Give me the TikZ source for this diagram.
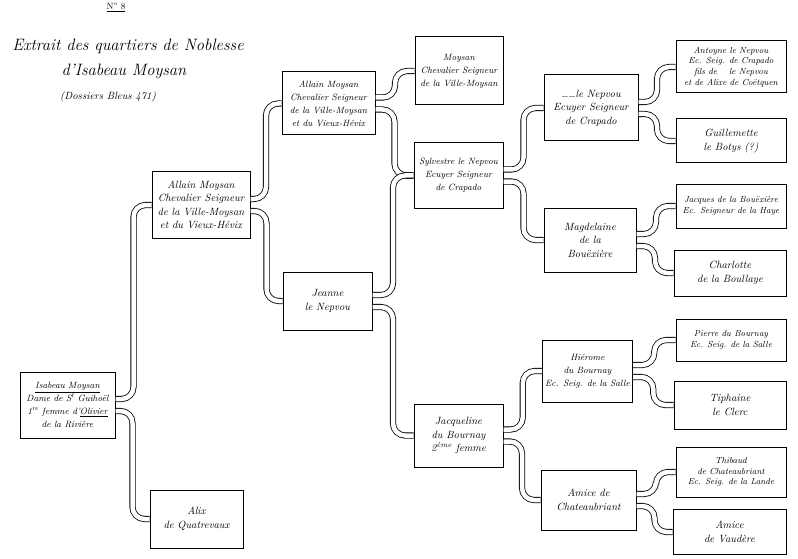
\documentclass[tikz,border=0pt]{standalone}
\usetikzlibrary{calc}
\begin{document}
\begin{tikzpicture}[
  x=1pt,
  y=-1pt,
  person/.style={draw, line width=1pt, align=center, inner sep=1pt,
    font=\fontsize{10.5}{13.5}\selectfont\itshape},
  narrow/.style={person, font=\fontsize{9.1}{13}\selectfont\itshape},
  elder/.style={person, font=\fontsize{8.8}{10.8}\selectfont\itshape},
  link/.style={draw=black, line width=0.8pt, double=white,
    double distance=4.5pt, rounded corners=12pt},
  heading/.style={font=\fontsize{16.5}{20}\selectfont\itshape, align=center},
  note/.style={font=\fontsize{10.5}{12}\selectfont\itshape}
]
  \useasboundingbox (0,0) rectangle (798,559);

  % Heading.
  \node[font=\small] (number) at (116,7) {\underline{N\textsuperscript{o} 8}};
  \node[heading] (title) at (128,46) {Extrait des quartiers de Noblesse};
  \node[heading] (name) at (124,71) {d'Isabeau Moysan};
  \node[note] (source) at (108,97) {(Dossiers Bleus 471)};

  % Generations, from left to right.
  \node[narrow, minimum width=95, minimum height=66] (isabeau) at (67.5,405)
    {\underline{Isabeau Moysan}\\Dame de S\textsuperscript{t} Guihoël\\
     1\textsuperscript{re} femme d'\underline{Olivier}\\de la Rivière};

  \node[person, minimum width=98, minimum height=66] (allainA) at (201,205)
    {Allain Moysan\\Chevalier Seigneur\\de la Ville-Moysan\\et du Vieux-Hévix};
  \node[person, minimum width=93, minimum height=58] (alix) at (196.5,519)
    {Alix\\de Quatrevaux};

  \node[narrow, minimum width=93, minimum height=63] (allainB) at (328.5,103.5)
    {Allain Moysan\\Chevalier Seigneur\\de la Ville-Moysan\\et du Vieux-Hévix};
  \node[person, minimum width=89, minimum height=58] (jeanne) at (327.5,301)
    {Jeanne\\le Nepvou};

  \node[narrow, minimum width=88, minimum height=68] (moysan) at (459,71)
    {Moysan\\Chevalier Seigneur\\de la Ville-Moysan};
  \node[narrow, minimum width=89, minimum height=65] (sylvestre) at (458.5,175.5)
    {Sylvestre le Nepvou\\Ecuyer Seigneur\\de Crapado};
  \node[person, minimum width=89, minimum height=63] (jacqueline) at (458.5,435.5)
    {Jacqueline\\du Bournay\\2\textsuperscript{ème} femme};

  \node[person, minimum width=94, minimum height=66] (nepvou) at (591,108)
    {\dots\dots le Nepvou\\Ecuyer Seigneur\\de Crapado};
  \node[person, minimum width=92, minimum height=64] (magdelaine) at (590,240)
    {Magdelaine\\de la\\Bouëxière};
  \node[narrow, minimum width=90, minimum height=62] (hierome) at (587.5,371)
    {Hiérome\\du Bournay\\Ec. Seig. de la Salle};
  \node[person, minimum width=95, minimum height=60] (amiceA) at (588.5,500)
    {Amice de\\Chateaubriant};

  \node[elder, minimum width=110, minimum height=52] (antoyne) at (731,67)
    {Antoyne le Nepvou\\Ec. Seig. de Crapado\\fils de \quad le Nepvou\\et de Alixe de Coëtquen};
  \node[person, minimum width=110, minimum height=44] (guillemette) at (731,141)
    {Guillemette\\le Botys (?)};
  \node[elder, minimum width=110, minimum height=44] (jacques) at (731,206)
    {Jacques de la Bouëxière\\Ec. Seigneur de la Haye};
  \node[person, minimum width=112, minimum height=46] (charlotte) at (730,273)
    {Charlotte\\de la Boullaye};
  \node[elder, minimum width=110, minimum height=42] (pierre) at (731,340)
    {Pierre du Bournay\\Ec. Seig. de la Salle};
  \node[person, minimum width=112, minimum height=48] (tiphaine) at (730,405)
    {Tiphaine\\le Clerc};
  \node[elder, minimum width=110, minimum height=50] (thibaud) at (731,472)
    {Thibaud\\de Chateaubriant\\Ec. Seig. de la Lande};
  \node[person, minimum width=113, minimum height=45] (amiceB) at (729.5,532)
    {Amice\\de Vaudère};

  % Double brackets from each child to its father and mother.
  \foreach \kid/\father/\mother in {isabeau/allainA/alix, allainA/allainB/jeanne,
      allainB/moysan/sylvestre, jeanne/sylvestre/jacqueline,
      sylvestre/nepvou/magdelaine, jacqueline/hierome/amiceA,
      nepvou/antoyne/guillemette, magdelaine/jacques/charlotte,
      hierome/pierre/tiphaine, amiceA/thibaud/amiceB}
  {
    \coordinate (upbend) at ($(\kid.east)!.5!(\father.west)$);
    \coordinate (downbend) at ($(\kid.east)!.5!(\mother.west)$);
    \draw[link] ([yshift=6pt]\kid.east) -| (upbend |- \father.west)
      -- (\father.west);
    \draw[link] ([yshift=-6pt]\kid.east) -| (downbend |- \mother.west)
      -- (\mother.west);
  }
\end{tikzpicture}
\end{document}
